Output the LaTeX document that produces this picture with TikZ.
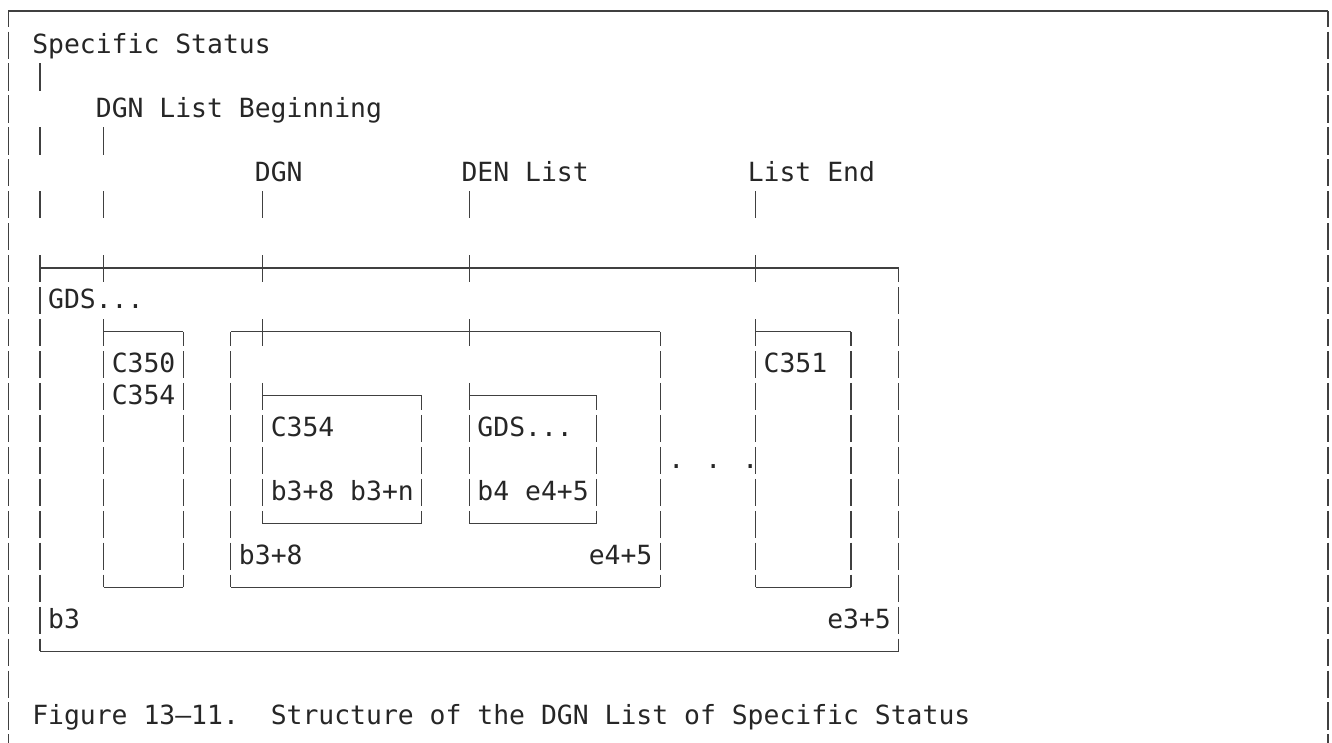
\documentclass[tikz,border=0pt]{standalone}
\usepackage{fontspec}
\newfontfamily\scanmono{DejaVu Sans Mono}
\usetikzlibrary{calc}

% one bar of a text row (the rows leave small gaps)
\newcommand{\rowbar}[2]{\draw[rule] (#1,#2-0.36) -- (#1,#2+0.49);}
% text-art box: left col, right col, top row, bottom row
\newcommand{\artbox}[4]{%
  \pgfmathtruncatemacro{\rfirst}{#3+1}%
  \pgfmathtruncatemacro{\rlast}{#4-1}%
  \draw[rule] (#1,#3+0.04) -- (#2,#3+0.04) (#1,#4+0.04) -- (#2,#4+0.04);
  \foreach \cc in {#1,#2}{%
    \draw[rule] (\cc,#3+0.04) -- (\cc,#3+0.49) (\cc,#4-0.36) -- (\cc,#4+0.04);
    \foreach \rr in {\rfirst,...,\rlast}{\rowbar{\cc}{\rr}}
  }%
}

\begin{document}
\begin{tikzpicture}[x=15.9pt, y=-31.95pt,
    rule/.style={line width=1.2pt, draw=black!75},
    txt/.style={font=\scanmono\fontsize{26.41pt}{30pt}\selectfont, inner sep=0pt, anchor=base west, text=black!85}]
    \useasboundingbox (-0.516,-0.346) rectangle (83.258,22.909);
    % page frame
    \draw[rule] (0,0) -- (83,0);
    \foreach \cc in {0,83}{
        \draw[rule] (\cc,0) -- (\cc,0.49);
        \foreach \rr in {1,...,22}{\rowbar{\cc}{\rr}}
        \draw[rule] (\cc,22.64) -- (\cc,22.909);
    }
    % labels on top
    \node[txt] (spec) at (1.5,1.32) {Specific Status};
    \node[txt] (dgnbeg) at (5.5,3.32) {DGN List Beginning};
    \node[txt] (dgn) at (15.5,5.32) {DGN};
    \node[txt] (denlist) at (28.5,5.32) {DEN List};
    \node[txt] (listend) at (46.5,5.32) {List End};
    % leader bars and crossings
    \foreach \cc/\rr in {2/2,2/4,2/6,6/4,6/6,16/6,29/6,47/6,
        2/8,6/8,16/8,29/8,47/8,6/10,16/10,29/10,47/10,16/12,29/12}
        {\rowbar{\cc}{\rr}}
    % boxes
    \artbox{2}{56}{8}{20}
    \artbox{6}{11}{10}{18}
    \artbox{14}{41}{10}{18}
    \artbox{47}{53}{10}{18}
    \artbox{16}{26}{12}{16}
    \artbox{29}{37}{12}{16}
    % texts inside
    \node[txt] (gdsout) at (2.5,9.32) {GDS...};
    \node[txt] (cfirst) at (6.5,11.32) {C350};
    \node[txt] (csecond) at (6.5,12.32) {C354};
    \node[txt] (clast) at (47.5,11.32) {C351};
    \node[txt] (cinner) at (16.5,13.32) {C354};
    \node[txt] (gdsin) at (29.5,13.32) {GDS...};
    \node[txt] (dots) at (41.5,14.32) {. . .};
    \node[txt] (cofs) at (16.5,15.32) {b3+8 b3+n};
    \node[txt] (gofs) at (29.5,15.32) {b4 e4+5};
    \node[txt] (dgnb) at (14.5,17.32) {b3+8};
    \node[txt] (dgne) at (36.5,17.32) {e4+5};
    \node[txt] (outb) at (2.5,19.32) {b3};
    \node[txt] (oute) at (51.5,19.32) {e3+5};
    % caption
    \node[txt] (fignum) at (1.5,22.32) {Figure 13–11.};
    \node[txt] (figtitle) at (16.5,22.32) {Structure of the DGN List of Specific Status};
\end{tikzpicture}
\end{document}
